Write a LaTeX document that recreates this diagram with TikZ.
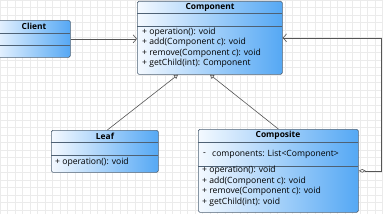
\documentclass[tikz,border=0pt]{standalone}
\usepackage{fontspec}
\setmainfont{Open Sans}
\usetikzlibrary{arrows.meta}
\definecolor{boxl}{HTML}{F4F9FF}
\definecolor{boxr}{HTML}{55A8F4}
\definecolor{boxline}{HTML}{4E6174}
\definecolor{linec}{HTML}{555555}
\definecolor{gridc}{HTML}{EBEBEB}
\begin{document}
\begin{tikzpicture}[x=1pt,y=-1pt,
 cls/.style={draw=boxline, line width=0.7pt, rounded corners=1.5pt, left color=boxl, right color=boxr, inner sep=0pt, anchor=north west},
 ttl/.style={font=\fontsize{8.4}{9}\selectfont\bfseries, inner sep=0pt},
 mem/.style={font=\fontsize{8.6}{9}\selectfont, inner sep=0pt, anchor=west},
 sep/.style={draw=boxline, line width=0.6pt},
 conn/.style={draw=linec, line width=0.6pt},
 openarr/.style={-{Straight Barb[length=3.5pt,width=8pt]}},
 gen/.style={-{Triangle[open,length=4pt,width=4.5pt]}}]
\useasboundingbox (0,0) rectangle (383,214);
\fill[white] (0,0) rectangle (383,214);
\clip (0,0) rectangle (383,214);
\foreach \gx in {0,7.5,...,383} {\draw[gridc, line width=0.4pt] (\gx,0) -- (\gx,214);}
\foreach \gy in {0,7.5,...,214} {\draw[gridc, line width=0.4pt] (0,\gy) -- (383,\gy);}

% Client
\node[cls, minimum width=80pt, minimum height=37pt] (client) at (-10,20) {};
\draw[sep] (-10,33) -- (70,33);
\draw[sep] (-10,45) -- (70,45);
\node[ttl] (clientt) at (34,26.5) {Client};

% Component
\node[cls, minimum width=145pt, minimum height=73pt] (component) at (137,1) {};
\draw[sep] (137,13) -- (282,13);
\draw[sep] (137,26) -- (282,26);
\node[ttl] (compt) at (210,7) {Component};
\node[mem] (cm1) at (142,32) {+ operation(): void};
\node[mem] (cm2) at (142,42.5) {+ add(Component c): void};
\node[mem] (cm3) at (142,53) {+ remove(Component c): void};
\node[mem] (cm4) at (142,63.5) {+ getChild(int): Component};

% Leaf
\node[cls, minimum width=107pt, minimum height=42pt] (leaf) at (51,130) {};
\draw[sep] (51,142) -- (158,142);
\draw[sep] (51,155) -- (158,155);
\node[ttl] (leaft) at (105,136) {Leaf};
\node[mem] (lm1) at (55,162) {+ operation(): void};

% Composite
\node[cls, minimum width=160pt, minimum height=83pt] (composite) at (198,129) {};
\draw[sep] (198,142) -- (358,142);
\draw[sep] (198,166) -- (358,166);
\node[ttl] (compot) at (278,135.5) {Composite};
\node[mem] (ca0) at (203,154) {-};
\node[mem] (ca1) at (212,154) {components: List<Component>};
\node[mem] (om1) at (202,170.5) {+ operation(): void};
\node[mem] (om2) at (202,181) {+ add(Component c): void};
\node[mem] (om3) at (202,191.5) {+ remove(Component c): void};
\node[mem] (om4) at (202,202) {+ getChild(int): void};

% Connectors
\draw[conn, openarr] (client.east) -- (client.east -| component.west);
\draw[conn, gen] ([xshift=2.5pt]leaf.north) -- ([xshift=41pt]component.south west);
\draw[conn, gen] (composite.north) -- ([xshift=73pt]component.south west);
\draw[conn, {Diamond[open,length=7pt,width=3.5pt]}-{Straight Barb[length=3.5pt,width=8pt]}]
  (composite.east) -- ++(23,0) |- (component.east);
\end{tikzpicture}
\end{document}
